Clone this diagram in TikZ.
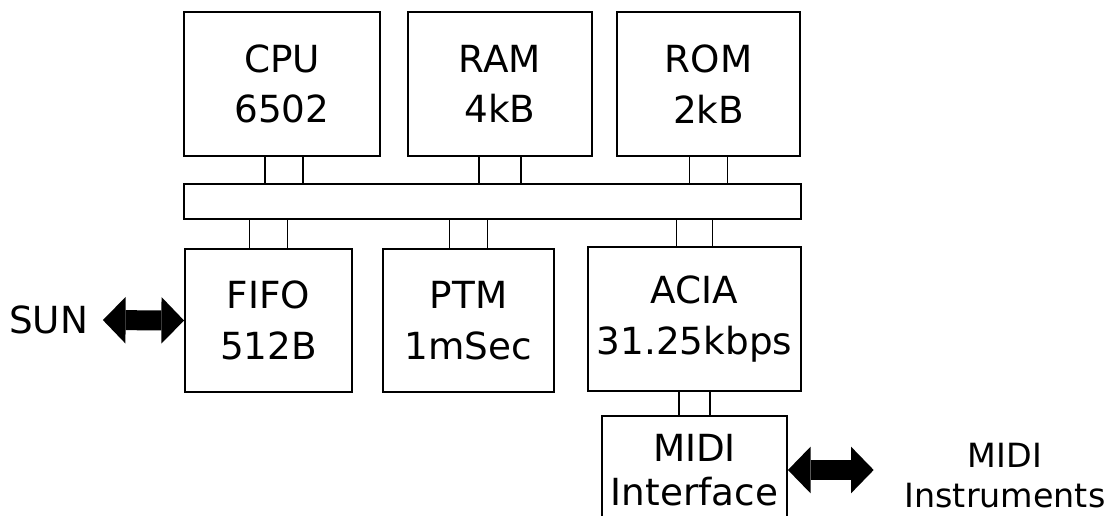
\documentclass[tikz,border=0pt]{standalone}
\usepackage{fontspec}
\setmainfont{DejaVu Sans}
\usetikzlibrary{arrows.meta}

\tikzset{every picture/.style={line width=1.4pt}}
\tikzset{
  unit/.style={draw, inner sep=0pt, align=center, font=\fontsize{28}{38}\selectfont},
  txt/.style={inner sep=0pt, align=center, font=\fontsize{28}{38}\selectfont},
  fatarrow/.style={line width=15pt,
    {Triangle[length=17pt,width=35pt,line width=0pt]}-{Triangle[length=17pt,width=35pt,line width=0pt]}},
}

\begin{document}
\begin{tikzpicture}[x=0.75pt,y=0.75pt,yscale=-1,xscale=1]
\useasboundingbox (0,0) rectangle (1114,516);

%Shape: Rectangle [id:cpu]
\node[unit, minimum width=147pt, minimum height=108pt] (cpu) at (282,84) {CPU\\6502};
%Shape: Rectangle [id:ram]
\node[unit, minimum width=138pt, minimum height=108pt] (ram) at (500,84) {RAM\\4kB};
%Shape: Rectangle [id:rom]
\node[unit, minimum width=137.25pt, minimum height=108pt] (rom) at (708.5,84) {ROM\\2kB};
%Shape: Rectangle [id:bus]
\node[unit, minimum width=462.75pt, minimum height=26.25pt] (bus) at (492.5,201.5) {};
%Shape: Rectangle [id:fifo]
\node[unit, minimum width=125.25pt, minimum height=107.25pt] (fifo) at (268.5,320.5) {FIFO\\512B};
%Shape: Rectangle [id:ptm]
\node[unit, minimum width=128.25pt, minimum height=107.25pt] (ptm) at (468.5,320.5) {PTM\\1mSec};
%Shape: Rectangle [id:acia]
\node[unit, minimum width=159.75pt, minimum height=108pt] (acia) at (694.5,319) {ACIA\\31.25kbps};
%Shape: Rectangle [id:midi] (bottom runs off the page)
\node[unit, minimum width=138.75pt, minimum height=81pt, font=\fontsize{28}{33}\selectfont] (midi) at (694.5,470) {MIDI\\Interface};

% Text Node
\node[txt] (sun) at (48.5,320) {SUN};
% Text Node
\node[txt, font=\fontsize{25}{30}\selectfont] (instr) at (1005,476) {MIDI\\Instruments};

%Straight Lines: boxes to bus
\draw ([xshift=-12.75pt]cpu.south) -- ([xshift=-12.75pt]cpu.south |- bus.north);
\draw ([xshift=15.75pt]cpu.south) -- ([xshift=15.75pt]cpu.south |- bus.north);
\draw ([xshift=-15.75pt]ram.south) -- ([xshift=-15.75pt]ram.south |- bus.north);
\draw ([xshift=15.75pt]ram.south) -- ([xshift=15.75pt]ram.south |- bus.north);
\draw ([xshift=-14.25pt]rom.south) -- ([xshift=-14.25pt]rom.south |- bus.north);
\draw ([xshift=14.25pt]rom.south) -- ([xshift=14.25pt]rom.south |- bus.north);
\draw ([xshift=-14.25pt]fifo.north) -- ([xshift=-14.25pt]fifo.north |- bus.south);
\draw ([xshift=14.25pt]fifo.north) -- ([xshift=14.25pt]fifo.north |- bus.south);
\draw ([xshift=-14.25pt]ptm.north) -- ([xshift=-14.25pt]ptm.north |- bus.south);
\draw ([xshift=14.25pt]ptm.north) -- ([xshift=14.25pt]ptm.north |- bus.south);
\draw ([xshift=-13.5pt]acia.north) -- ([xshift=-13.5pt]acia.north |- bus.south);
\draw ([xshift=13.5pt]acia.north) -- ([xshift=13.5pt]acia.north |- bus.south);
%Straight Lines: acia to midi
\draw ([xshift=-11.5pt]acia.south) -- ([xshift=-11.5pt]acia.south |- midi.north);
\draw ([xshift=11.5pt]acia.south) -- ([xshift=11.5pt]acia.south |- midi.north);

%Double arrows
\draw[fatarrow, shorten <=10.5pt] (sun.east) -- (fifo.west);
\draw[fatarrow, shorten >=22.5pt] (midi.east) -- (midi.east -| instr.west);

\end{tikzpicture}
\end{document}
